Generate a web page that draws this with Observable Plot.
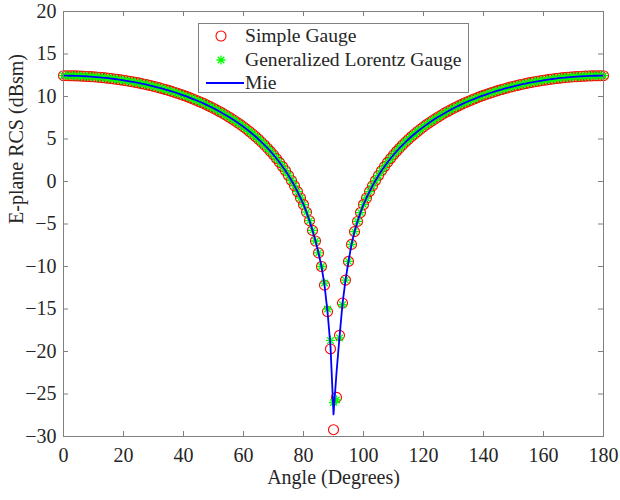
<!DOCTYPE html>
<html><head><meta charset="utf-8">
<script src="https://cdn.jsdelivr.net/npm/d3@7"></script>
<script src="https://cdn.jsdelivr.net/npm/@observablehq/plot@0.6"></script>
<style>
body{margin:0;background:#fff;}
#wrap{position:relative;width:620px;height:500px;font-family:"Liberation Serif","Times New Roman",serif;color:#262626;}
#legend{position:absolute;left:198px;top:23px;width:269px;height:68px;border:1px solid #808080;background:#fff;font-size:19.6px;}
.row{position:absolute;left:0;height:22px;width:100%;}
.row svg{position:absolute;left:6px;top:0;}
.row span{position:absolute;left:46px;top:0;line-height:22px;white-space:nowrap;}
</style></head>
<body><div id="wrap"><div id="legend"></div></div>
<script>
const angles = [0,1,2,3,4,5,6,7,8,9,10,11,12,13,14,15,16,17,18,19,20,21,22,23,24,25,26,27,28,29,30,31,32,33,34,35,36,37,38,39,40,41,42,43,44,45,46,47,48,49,50,51,52,53,54,55,56,57,58,59,60,61,62,63,64,65,66,67,68,69,70,71,72,73,74,75,76,77,78,79,80,81,82,83,84,85,86,87,88,89,90,91,92,93,94,95,96,97,98,99,100,101,102,103,104,105,106,107,108,109,110,111,112,113,114,115,116,117,118,119,120,121,122,123,124,125,126,127,128,129,130,131,132,133,134,135,136,137,138,139,140,141,142,143,144,145,146,147,148,149,150,151,152,153,154,155,156,157,158,159,160,161,162,163,164,165,166,167,168,169,170,171,172,173,174,175,176,177,178,179,180];

const simpleGauge = [
12.45,12.45,12.44,12.44,12.43,12.42,12.40,12.38,12.36,12.34,
12.32,12.29,12.26,12.22,12.19,12.15,12.11,12.06,12.01,11.96,
11.91,11.85,11.79,11.73,11.66,11.60,11.52,11.45,11.37,11.29,
11.20,11.11,11.02,10.92,10.82,10.72,10.61,10.50,10.38,10.26,
10.13,10.01,9.87,9.73,9.59,9.44,9.29,9.13,8.96,8.79,
8.61,8.43,8.24,8.04,7.83,7.62,7.40,7.17,6.93,6.69,
6.43,6.16,5.88,5.59,5.29,4.97,4.64,4.29,3.92,3.54,
3.13,2.70,2.25,1.77,1.26,0.71,0.12,-0.51,-1.19,-1.94,
-2.71,-3.61,-4.61,-5.75,-7.00,-8.40,-10.00,-12.20,-15.30,-19.70,
-29.20,
-25.40,-18.10,-14.30,-11.60,-9.40,-7.40,-5.90,-4.70,-3.65,-2.71,
-1.94,-1.19,-0.51,0.12,0.71,1.26,1.77,2.25,2.70,3.13,
3.54,3.92,4.29,4.64,4.97,5.29,5.59,5.88,6.16,6.43,
6.69,6.93,7.17,7.40,7.62,7.83,8.04,8.24,8.43,8.61,
8.79,8.96,9.13,9.29,9.44,9.59,9.73,9.87,10.01,10.13,
10.26,10.38,10.50,10.61,10.72,10.82,10.92,11.02,11.11,11.20,
11.29,11.37,11.45,11.52,11.60,11.66,11.73,11.79,11.85,11.91,
11.96,12.01,12.06,12.11,12.15,12.19,12.22,12.26,12.29,12.32,
12.34,12.36,12.38,12.40,12.42,12.43,12.44,12.44,12.45,12.45];

const lorentzGauge = [
12.45,12.45,12.44,12.44,12.43,12.42,12.40,12.38,12.36,12.34,
12.32,12.29,12.26,12.22,12.19,12.15,12.11,12.06,12.01,11.96,
11.91,11.85,11.79,11.73,11.66,11.60,11.52,11.45,11.37,11.29,
11.20,11.11,11.02,10.92,10.82,10.72,10.61,10.50,10.38,10.26,
10.13,10.01,9.87,9.73,9.59,9.44,9.29,9.13,8.96,8.79,
8.61,8.43,8.24,8.04,7.83,7.62,7.40,7.17,6.93,6.69,
6.43,6.16,5.88,5.59,5.29,4.97,4.64,4.29,3.92,3.54,
3.13,2.70,2.25,1.77,1.26,0.71,0.12,-0.51,-1.19,-1.94,
-2.71,-3.61,-4.61,-5.75,-7.00,-8.40,-10.00,-11.95,-15.00,-18.70,
-26.00,
-25.70,-18.40,-14.50,-11.60,-9.40,-7.40,-5.90,-4.70,-3.65,-2.71,
-1.94,-1.19,-0.51,0.12,0.71,1.26,1.77,2.25,2.70,3.13,
3.54,3.92,4.29,4.64,4.97,5.29,5.59,5.88,6.16,6.43,
6.69,6.93,7.17,7.40,7.62,7.83,8.04,8.24,8.43,8.61,
8.79,8.96,9.13,9.29,9.44,9.59,9.73,9.87,10.01,10.13,
10.26,10.38,10.50,10.61,10.72,10.82,10.92,11.02,11.11,11.20,
11.29,11.37,11.45,11.52,11.60,11.66,11.73,11.79,11.85,11.91,
11.96,12.01,12.06,12.11,12.15,12.19,12.22,12.26,12.29,12.32,
12.34,12.36,12.38,12.40,12.42,12.43,12.44,12.44,12.45,12.45];

const mieRCS = [
12.45,12.45,12.44,12.44,12.43,12.42,12.40,12.38,12.36,12.34,
12.32,12.29,12.26,12.22,12.19,12.15,12.11,12.06,12.01,11.96,
11.91,11.85,11.79,11.73,11.66,11.60,11.52,11.45,11.37,11.29,
11.20,11.11,11.02,10.92,10.82,10.72,10.61,10.50,10.38,10.26,
10.13,10.01,9.87,9.73,9.59,9.44,9.29,9.13,8.96,8.79,
8.61,8.43,8.24,8.04,7.83,7.62,7.40,7.17,6.93,6.69,
6.43,6.16,5.88,5.59,5.29,4.97,4.64,4.29,3.92,3.54,
3.13,2.70,2.25,1.77,1.26,0.71,0.12,-0.51,-1.19,-1.94,
-2.71,-3.61,-4.61,-5.75,-7.00,-8.40,-10.00,-12.20,-15.30,-19.40,
-27.40,
-22.50,-18.30,-14.40,-11.60,-9.40,-7.40,-5.90,-4.70,-3.65,-2.71,
-1.94,-1.19,-0.51,0.12,0.71,1.26,1.77,2.25,2.70,3.13,
3.54,3.92,4.29,4.64,4.97,5.29,5.59,5.88,6.16,6.43,
6.69,6.93,7.17,7.40,7.62,7.83,8.04,8.24,8.43,8.61,
8.79,8.96,9.13,9.29,9.44,9.59,9.73,9.87,10.01,10.13,
10.26,10.38,10.50,10.61,10.72,10.82,10.92,11.02,11.11,11.20,
11.29,11.37,11.45,11.52,11.60,11.66,11.73,11.79,11.85,11.91,
11.96,12.01,12.06,12.11,12.15,12.19,12.22,12.26,12.29,12.32,
12.34,12.36,12.38,12.40,12.42,12.43,12.44,12.44,12.45,12.45];

const xTicks = [0,20,40,60,80,100,120,140,160,180];
const yTicks = [-30,-25,-20,-15,-10,-5,0,5,10,15,20];
const seriesNames = ["Simple Gauge","Generalized Lorentz Gauge","Mie"];
const xTitle = "Angle (Degrees)";
const yTitle = "E-plane RCS (dBsm)";

const rows = angles.map((a,i)=>({angle:a, simple:simpleGauge[i], lorentz:lorentzGauge[i], mie:mieRCS[i]}));

const star8 = {draw(ctx,size){const r=Math.sqrt(size/Math.PI);const d=r*Math.SQRT1_2;
  ctx.moveTo(-r,0);ctx.lineTo(r,0);ctx.moveTo(0,-r);ctx.lineTo(0,r);
  ctx.moveTo(-d,-d);ctx.lineTo(d,d);ctx.moveTo(-d,d);ctx.lineTo(d,-d);}};

const W=620,H=500,mL=63,mR=17,mT=11,mB=64;
const iW=W-mL-mR, iH=H-mT-mB;
const axisCol="#808080";

const chart = Plot.plot({
  width:W,height:H,marginLeft:mL,marginRight:mR,marginTop:mT,marginBottom:mB,
  style:{fontFamily:'"Liberation Serif","Times New Roman",serif',fontSize:"20px",color:"#262626",background:"#fff"},
  x:{domain:[0,180]}, y:{domain:[-30,20]},
  marks:[
    Plot.dot(rows,{x:"angle",y:"simple",r:5,stroke:"#ff0000",fill:"none",strokeWidth:1.1}),
    Plot.dot(rows,{x:"angle",y:"lorentz",symbol:star8,r:4.6,stroke:"#00ff00",strokeWidth:1.3}),
    Plot.line(rows,{x:"angle",y:"mie",stroke:"#0000ff",strokeWidth:1.8}),
    Plot.frame({stroke:axisCol}),
    Plot.tickX(xTicks,{x:d=>d,stroke:axisCol,insetTop:iH-5}),
    Plot.tickX(xTicks,{x:d=>d,stroke:axisCol,insetBottom:iH-5}),
    Plot.tickY(yTicks,{y:d=>d,stroke:axisCol,insetRight:iW-5}),
    Plot.tickY(yTicks,{y:d=>d,stroke:axisCol,insetLeft:iW-5}),
    Plot.axisX(xTicks,{tickSize:0,tickPadding:11,label:null,fill:"#262626",fontSize:20}),
    Plot.axisY(yTicks,{tickSize:0,tickPadding:7,label:null,fill:"#262626",fontSize:20}),
    Plot.text([xTitle],{frameAnchor:"bottom",dy:47,fill:"#262626",fontSize:20}),
    Plot.text([yTitle],{frameAnchor:"left",rotate:-90,dx:-47,fill:"#262626",fontSize:20})
  ]
});
const wrap=document.getElementById("wrap");
wrap.insertBefore(chart,wrap.firstChild);

const legend=document.getElementById("legend");
const syms=[
 '<svg width="30" height="22"><circle cx="16" cy="11" r="5" fill="none" stroke="#ff0000" stroke-width="1.1"/></svg>',
 '<svg width="30" height="22"><path d="M11.4,11H20.6M16,6.4V15.6M12.7,7.7L19.3,14.3M12.7,14.3L19.3,7.7" stroke="#00ff00" stroke-width="1.3" fill="none"/></svg>',
 '<svg width="40" height="22"><line x1="1" y1="11" x2="39" y2="11" stroke="#0000ff" stroke-width="1.8"/></svg>'
];
const tops=[1,25,48];
seriesNames.forEach((n,i)=>{
  const d=document.createElement("div");d.className="row";d.style.top=tops[i]+"px";
  d.innerHTML=syms[i]+'<span>'+n+'</span>';legend.appendChild(d);
});
</script></body></html>
